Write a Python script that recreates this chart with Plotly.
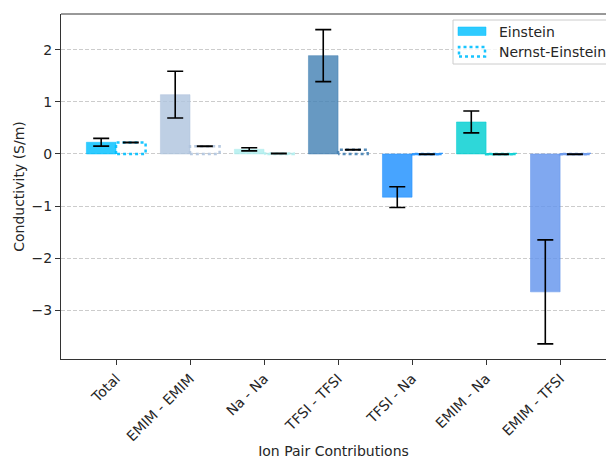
import plotly.graph_objects as go

# Ion pair contributions to conductivity (S/m)
categories = ["Total", "EMIM - EMIM", "Na - Na", "TFSI - TFSI", "TFSI - Na", "EMIM - Na", "EMIM - TFSI"]
einstein = [0.225, 1.14, 0.09, 1.89, -0.83, 0.615, -2.65]
einstein_err = [0.075, 0.45, 0.03, 0.50, 0.20, 0.21, 1.00]
nernst_einstein = [0.22, 0.15, 0.01, 0.08, -0.005, -0.005, -0.005]
nernst_einstein_err = [0.004, 0.004, 0.004, 0.004, 0.004, 0.004, 0.004]
series_names = ["Einstein", "Nernst-Einstein"]

bar_rgb = [(0, 191, 255), (176, 196, 222), (175, 238, 238), (70, 130, 180),
           (30, 144, 255), (0, 206, 209), (100, 149, 237)]

def rgba(c, a):
    return f"rgba({c[0]},{c[1]},{c[2]},{a})"

W = 0.4
idx = list(range(len(categories)))
font = dict(family="DejaVu Sans", size=14, color="#262626")

# figure / plot-area geometry in pixels
FW, FH = 606, 459
ML, MR, MT, MB = 61, 0, 14, 100
PW, PH = FW - ML - MR, FH - MT - MB

def px(xp):
    return (xp - ML) / PW

def py(yp):
    return (FH - MB - yp) / PH

fig = go.Figure()

# Einstein bars (left of each tick)
fig.add_trace(go.Bar(
    x=[i - W / 2 for i in idx], y=einstein, width=W,
    marker=dict(color=[rgba(c, 0.82) for c in bar_rgb],
                line=dict(color=[rgba(c, 0.5) for c in bar_rgb], width=1)),
    error_y=dict(type="data", array=einstein_err, color="black", thickness=1.6, width=8),
    name=series_names[0], showlegend=False,
))

# Nernst-Einstein bars: dotted outlines (right of each tick)
for i, (v, c) in enumerate(zip(nernst_einstein, bar_rgb)):
    x0, x1 = i, i + W
    fig.add_trace(go.Scatter(
        x=[x0, x0, x1, x1, x0], y=[0, v, v, 0, 0],
        mode="lines", line=dict(color=rgba(c, 0.9), width=2.5, dash="dot"),
        name=series_names[1], showlegend=False, hoverinfo="skip",
    ))

# Nernst-Einstein error bars
fig.add_trace(go.Scatter(
    x=[i + W / 2 for i in idx], y=nernst_einstein, mode="markers",
    marker=dict(size=1, color="rgba(0,0,0,0)"),
    error_y=dict(type="data", array=nernst_einstein_err, color="black", thickness=1.6, width=8),
    showlegend=False, hoverinfo="skip",
))

# top spine
fig.add_shape(type="line", xref="paper", yref="paper", x0=0, x1=1, y0=1, y1=1,
              line=dict(color="#333333", width=1))

# legend box with wide swatches
fig.add_shape(type="rect", xref="paper", yref="paper",
              x0=px(453), x1=px(640), y0=py(64), y1=py(20),
              line=dict(color="#cccccc", width=1), fillcolor="rgba(255,255,255,0.8)", layer="above")
fig.add_shape(type="rect", xref="paper", yref="paper",
              x0=px(458), x1=px(486), y0=py(35.5), y1=py(27),
              line=dict(color=rgba(bar_rgb[0], 0.5), width=1), fillcolor=rgba(bar_rgb[0], 0.82), layer="above")
fig.add_shape(type="rect", xref="paper", yref="paper",
              x0=px(459), x1=px(485), y0=py(56.5), y1=py(47),
              line=dict(color=rgba(bar_rgb[0], 0.9), width=2.5, dash="dot"),
              fillcolor="rgba(0,0,0,0)", layer="above")
for name, ypix in zip(series_names, [32, 52]):
    fig.add_annotation(xref="paper", yref="paper", x=px(497), y=py(ypix),
                       text=name, showarrow=False, xanchor="left", yanchor="middle",
                       font=font)

fig.update_layout(
    width=FW, height=FH,
    margin=dict(l=ML, r=MR, t=MT, b=MB, autoexpand=False),
    paper_bgcolor="white", plot_bgcolor="white",
    font=font, barmode="overlay", showlegend=False,
)

fig.update_xaxes(
    range=[-0.743, 6.62], tickmode="array", tickvals=idx, ticktext=categories,
    tickangle=-45, ticks="outside", ticklen=5, tickcolor="#333333",
    showline=True, linecolor="#333333", linewidth=1, mirror=False,
    showgrid=False, zeroline=False, automargin=False,
    title=dict(text="Ion Pair Contributions", font=font, standoff=10),
)
fig.update_yaxes(
    range=[-3.94, 2.69], tickvals=[-3, -2, -1, 0, 1, 2],
    ticktext=["\u22123", "\u22122", "\u22121", "0", "1", "2"],
    ticks="outside", ticklen=5, tickcolor="#333333",
    showline=True, linecolor="#333333", linewidth=1,
    showgrid=True, gridcolor="#cccccc", griddash="4px,2px", gridwidth=1,
    zeroline=False, automargin=False,
    title=dict(text="Conductivity (S/m)", font=font, standoff=3),
)

fig.write_html("out.html")
